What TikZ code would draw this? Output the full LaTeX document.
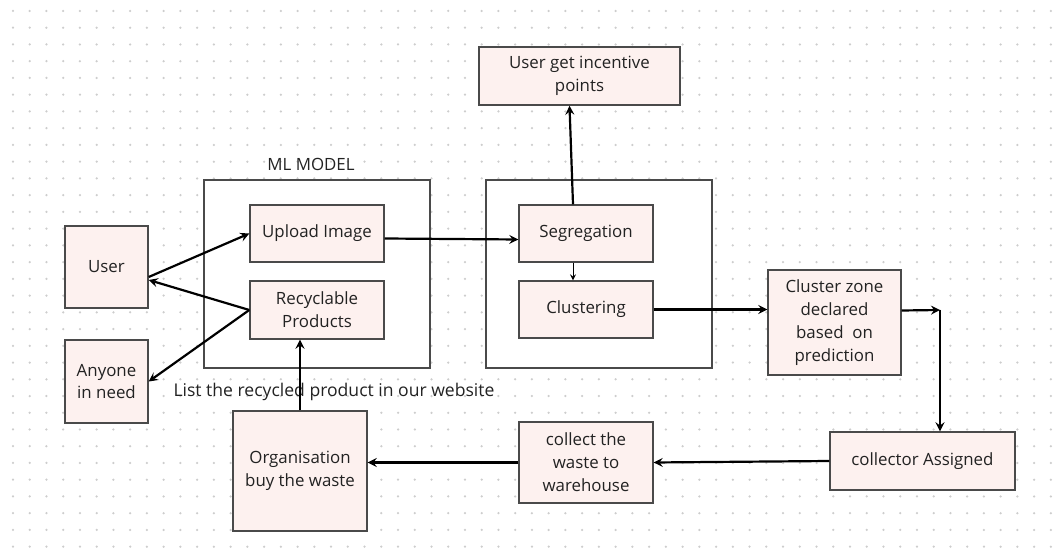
\documentclass[tikz,border=0pt]{standalone}
\usepackage{fontspec}
\setmainfont{Open Sans}
\usepackage{xcolor}
\usetikzlibrary{calc}
\definecolor{boxfill}{HTML}{FDF1EF}
\definecolor{boxline}{HTML}{4A4A4A}
\definecolor{dotgrey}{HTML}{CDCDCD}
\definecolor{inkgrey}{HTML}{222222}
\tikzset{
	box/.style={draw=boxline, line width=0.8pt, fill=boxfill, align=center,
		inner sep=0pt, text=inkgrey, font=\fontsize{9.6}{13}\selectfont},
	frame/.style={draw=boxline, line width=0.8pt, fill=white, inner sep=0pt},
	link/.style={->, line width=1.25pt},
}

\begin{document}
\begin{tikzpicture}[>=stealth, x=0.02cm, y=-0.02cm]
	
	\useasboundingbox (0,0) rectangle (1062,553);
	
	% dotted paper
	\foreach \i in {0,...,62}
		\foreach \j in {0,...,32}
			\fill[dotgrey] (13+16.74*\i, 11+16.74*\j) circle (0.025cm);
	
	% the two frames
	\node[frame, minimum width=4.52cm, minimum height=3.76cm] (mlframe) at (317,274) {};
	\node[frame, minimum width=4.52cm, minimum height=3.76cm] (clframe) at (599,274) {};
	\node[text=inkgrey, font=\fontsize{9.6}{13}\selectfont] (mllabel) at (311,164) {ML MODEL};
	
	% boxes
	\node[box, minimum width=4.02cm, minimum height=1.16cm] (incent) at (579.5,76) {User get incentive\\points};
	\node[box, minimum width=2.68cm, minimum height=1.14cm] (upload) at (317,233.5) {Upload Image};
	\node[box, minimum width=2.68cm, minimum height=1.16cm] (recyc)  at (317,310) {Recyclable\\Products};
	\node[box, minimum width=2.68cm, minimum height=1.14cm] (segr)   at (586,233.5) {Segregation};
	\node[box, minimum width=2.68cm, minimum height=1.14cm] (clust)  at (586,309.5) {Clustering};
	\node[box, minimum width=1.66cm, minimum height=1.64cm] (user)   at (106.5,267) {User};
	\node[box, minimum width=1.66cm, minimum height=1.66cm] (anyone) at (106.5,381.5) {Anyone\\in need};
	\node[box, minimum width=2.66cm, minimum height=2.10cm] (zone)   at (834.5,322.5) {Cluster zone\\declared\\based\ \ on\\prediction};
	\node[box, minimum width=3.70cm, minimum height=1.16cm] (assign) at (922.5,461) {collector Assigned};
	\node[box, minimum width=2.68cm, minimum height=1.62cm] (collect) at (586,462.5) {collect the\\waste to\\warehouse};
	\node[box, minimum width=2.68cm, minimum height=2.40cm] (org)    at (300,471) {Organisation\\buy the waste};
	
	\node[text=inkgrey, font=\fontsize{10}{13}\selectfont] (listtext) at (334,392) {List the recycled product in our website};
	
	\coordinate (turn) at (940,310); % corner before the collector
	
	% connectors
	\draw[link] ($(user.east)+(0,10)$) -- (upload.west);
	\draw[link] (recyc.west) -- ($(user.east)+(0,13)$);
	\draw[link] (recyc.west) -- (anyone.east);
	\draw[link] ($(upload.east)+(0,5)$) -- ($(segr.west)+(0,6)$);
	\draw[link] ($(segr.north)+(-13,0)$) -- ($(incent.south)+(-10,0)$);
	\draw[->, line width=0.5pt] ($(segr.south)+(-13,0)$) -- ($(clust.north)+(-13,0)$);
	\draw[link] (clust.east) -- ($(zone.west)+(0,-13)$);
	\draw[link] ($(zone.east)+(0,-12)$) -- (turn);
	\draw[link] (turn) -- (turn |- assign.north);
	\draw[link] (assign.west) -- (collect.east);
	\draw[link] (collect.west) -- (collect.west -| org.east);
	\draw[link] (org.north) -- (org.north |- recyc.south);
	
\end{tikzpicture}
\end{document}
